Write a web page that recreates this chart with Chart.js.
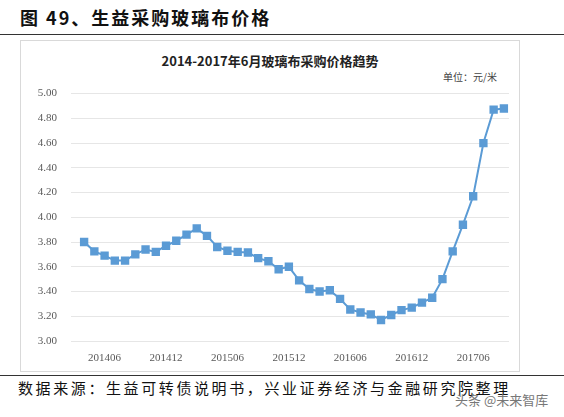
<!DOCTYPE html>
<html><head><meta charset="utf-8">
<script src="https://cdn.jsdelivr.net/npm/chart.js@4/dist/chart.umd.min.js"></script>
<style>
body{margin:0;width:564px;height:417px;background:#fff;position:relative;overflow:hidden;font-family:"Noto Sans CJK SC",sans-serif}
#hd{position:absolute;left:20px;top:4px;font-size:18px;font-weight:bold;color:#111;letter-spacing:2px}
.rule{position:absolute;left:0;width:564px;height:1px;background:#333}
#box{position:absolute;left:20px;top:40px;width:498px;height:330px;border:1px solid #d9d9d9}
#ttl{position:absolute;left:0;width:100%;top:10px;text-align:center;font-size:13px;font-weight:bold;color:#222}
#unit{position:absolute;right:22px;top:28px;font-size:10px;color:#444}
#wrap{position:absolute;left:0;top:32px;width:498px;height:298px}
#ft{position:absolute;left:18px;top:377px;font-size:15px;color:#111;letter-spacing:2.6px}
#wm{position:absolute;left:455px;top:390px;font-size:13px;color:#777}
</style></head><body>
<div id="hd">图 49、生益采购玻璃布价格</div>
<div class="rule" style="top:34px"></div>
<div id="box">
<div id="ttl">2014-2017年6月玻璃布采购价格趋势</div>
<div id="unit">单位：元/米</div>
<div id="wrap"><canvas id="c"></canvas></div>
</div>
<div class="rule" style="top:375px"></div>
<div id="ft">数据来源：生益可转债说明书，兴业证券经济与金融研究院整理</div>
<div id="wm">头条 @未来智库</div>
<script>
const months = [];
for (let y = 2014; y <= 2017; y++) {
  for (let m = 1; m <= 12; m++) {
    const k = y * 100 + m;
    if (k >= 201404 && k <= 201709) months.push(String(k));
  }
}
const prices = [3.80, 3.725, 3.69, 3.65, 3.65, 3.70, 3.74, 3.72, 3.77, 3.81, 3.86, 3.91,
  3.85, 3.76, 3.73, 3.72, 3.715, 3.67, 3.645, 3.58, 3.60, 3.49, 3.42, 3.40, 3.41, 3.34,
  3.255, 3.23, 3.215, 3.17, 3.21, 3.25, 3.27, 3.31, 3.35, 3.50, 3.725, 3.94, 4.17, 4.60, 4.87, 4.88];
const tickFont = { family: 'Liberation Serif', size: 11 };

new Chart(document.getElementById('c'), {
  type: 'line',
  data: {
    labels: months,
    datasets: [{
      data: prices,
      borderColor: '#5b9bd5',
      backgroundColor: '#5b9bd5',
      borderWidth: 2,
      pointStyle: 'rect',
      pointRadius: 4.5,
      pointHoverRadius: 4.5,
      tension: 0,
    }],
  },
  options: {
    responsive: true,
    maintainAspectRatio: false,
    animation: false,
    layout: { padding: { top: 7, right: 10 } },
    plugins: { legend: { display: false }, tooltip: { enabled: false } },
    scales: {
      x: {
        offset: true,
        grid: { display: false },
        border: { display: false },
        ticks: {
          autoSkip: false, maxRotation: 0, color: '#595959', font: tickFont,
          callback: (v, i) => (months[i].endsWith('06') || months[i].endsWith('12')) ? months[i] : '',
        },
        afterFit: (s) => { s.height = 30; },
      },
      y: {
        min: 3, max: 5,
        grid: { color: '#e6e6e6' },
        border: { display: false },
        ticks: { stepSize: 0.2, color: '#595959', font: tickFont, padding: 14, callback: (v) => v.toFixed(2) },
        afterFit: (s) => { s.width = 58; },
      },
    },
  },
});
</script>
</body></html>
